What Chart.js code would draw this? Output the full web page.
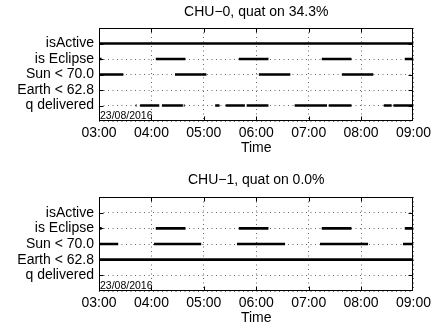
<!DOCTYPE html>
<html>
<head>
<meta charset="utf-8">
<script src="https://cdn.jsdelivr.net/npm/chart.js@4.4.1/dist/chart.umd.min.js"></script>
<style>
  body { margin: 0; background: #fff; }
  .box { position: absolute; left: 0; width: 435px; }
</style>
</head>
<body>
<div class="box" style="top:0px;height:165px"><canvas id="chu0Chart" width="435" height="165"></canvas></div>
<div class="box" style="top:169px;height:159px"><canvas id="chu1Chart" width="435" height="159"></canvas></div>
<script>
// CHU 상태 타임라인 (2016-08-23)
var rowLabels = ['isActive', 'is Eclipse', 'Sun < 70.0', 'Earth < 62.8', 'q delivered'];
var timeTicks = ['03:00', '04:00', '05:00', '06:00', '07:00', '08:00', '09:00'];
var dateLabel = '23/08/2016';

var chu0Title = 'CHU\u22120, quat on 34.3%';
var chu0Active  = [['03:00', '09:00']];
var chu0Eclipse = [['03:00', '03:03'], ['04:05', '04:39'], ['05:40', '06:14'], ['07:15', '07:49'], ['08:50', '09:00']];
var chu0Sun     = [['03:00', '03:28'], ['04:27', '05:03'], ['06:03', '06:39'], ['07:38', '08:14']];
var chu0Earth   = [];
var chu0Quat    = [['03:42', '03:43'], ['03:47', '04:09'], ['04:12', '04:36'], ['04:37', '04:38'], ['05:13', '05:18'],
                   ['05:25', '05:47'], ['05:49', '06:14'], ['06:44', '07:21'], ['07:23', '07:49'], ['08:26', '08:35'], ['08:37', '09:00']];

var chu1Title = 'CHU\u22121, quat on 0.0%';
var chu1Active  = [];
var chu1Eclipse = [['03:00', '03:03'], ['04:05', '04:39'], ['05:40', '06:14'], ['07:15', '07:49'], ['08:50', '09:00']];
var chu1Sun     = [['03:00', '03:22'], ['04:03', '04:57'], ['05:38', '06:33'], ['07:13', '08:08'], ['08:48', '09:00']];
var chu1Earth   = [['03:00', '09:00']];
var chu1Quat    = [];

var fontName = '"Liberation Sans", Arial, sans-serif';

function toMin(s) {
    var p = s.split(':');
    return parseInt(p[0]) * 60 + parseInt(p[1]);
}

// 구간 목록 -> 선 데이터 (구간 사이는 null 로 끊음)
function segPoints(segs, row) {
    var pts = [];
    for (var i = 0; i < segs.length; i++) {
        pts.push({x: toMin(segs[i][0]), y: row});
        pts.push({x: toMin(segs[i][1]), y: row});
        pts.push({x: toMin(segs[i][1]), y: null});
    }
    return pts;
}

var frameStamp = {
    id: 'frameStamp',
    afterDraw: function(chart) {
        var ctx = chart.ctx, a = chart.chartArea;
        var xs = chart.scales.x, ys = chart.scales.y;
        var l = Math.round(a.left) + 0.5, r = Math.round(a.right) - 0.5;
        var t = Math.round(a.top) + 0.5, b = Math.round(a.bottom) - 0.5;
        ctx.save();
        ctx.strokeStyle = '#000';
        ctx.lineWidth = 1;
        ctx.beginPath();
        for (var i = 1; i < timeTicks.length - 1; i++) {
            var px = Math.round(xs.getPixelForValue(toMin(timeTicks[i]))) + 0.5;
            ctx.moveTo(px, t); ctx.lineTo(px, t + 4);
            ctx.moveTo(px, b); ctx.lineTo(px, b - 4);
        }
        for (var k = 1; k <= rowLabels.length; k++) {
            var py = Math.round(ys.getPixelForValue(k)) + 0.5;
            ctx.moveTo(l, py); ctx.lineTo(l + 4, py);
            ctx.moveTo(r, py); ctx.lineTo(r - 4, py);
        }
        ctx.stroke();
        ctx.strokeRect(l, t, r - l, b - t);
        ctx.fillStyle = '#000';
        ctx.font = '10.5px ' + fontName;
        ctx.textBaseline = 'alphabetic';
        ctx.textAlign = 'left';
        ctx.fillText(dateLabel, a.left + 1, a.bottom - 2);
        ctx.restore();
    }
};

function makeChart(canvasId, title, rows, lay) {
    var datasets = [];
    for (var i = 0; i < rows.length; i++) {
        datasets.push({
            label: rowLabels[i],
            data: segPoints(rows[i], rowLabels.length - i),
            borderColor: '#000',
            borderWidth: 2.6,
            borderCapStyle: 'butt',
            pointRadius: 0,
            fill: false,
            tension: 0,
            spanGaps: false
        });
    }
    var ctx = document.getElementById(canvasId).getContext('2d');
    return new Chart(ctx, {
        type: 'line',
        data: { datasets: datasets },
        plugins: [frameStamp],
        options: {
            responsive: false,
            animation: false,
            layout: { padding: { left: 0, right: 20, top: 0, bottom: 0 } },
            plugins: {
                legend: { display: false },
                tooltip: { enabled: false },
                title: { display: false }
            },
            scales: {
                // 제목은 위쪽 축 제목으로 (플롯 영역 가운데 정렬)
                xTop: {
                    type: 'linear',
                    position: 'top',
                    min: toMin(timeTicks[0]),
                    max: toMin(timeTicks[timeTicks.length - 1]),
                    afterFit: function(s) { s.height = 28; },
                    ticks: { display: false },
                    grid: { display: false },
                    border: { display: false },
                    title: {
                        display: true,
                        text: title,
                        color: '#000',
                        font: { family: fontName, size: 14 },
                        padding: { top: lay.titleTop, bottom: 0 }
                    }
                },
                x: {
                    type: 'linear',
                    position: 'bottom',
                    min: toMin(timeTicks[0]),
                    max: toMin(timeTicks[timeTicks.length - 1]),
                    afterFit: function(s) { s.height = lay.xHeight; },
                    ticks: {
                        stepSize: 60,
                        padding: 4,
                        maxRotation: 0,
                        autoSkip: false,
                        color: '#000',
                        font: { family: fontName, size: 14 },
                        callback: function(v) {
                            var idx = (v - toMin(timeTicks[0])) / 60;
                            return timeTicks[idx] || '';
                        }
                    },
                    grid: { color: '#666', lineWidth: 1, drawTicks: false },
                    border: { display: false, dash: [1, 3.5] },
                    title: {
                        display: true,
                        text: 'Time',
                        color: '#000',
                        font: { family: fontName, size: 14 },
                        padding: { top: 0, bottom: lay.timePad }
                    }
                },
                y: {
                    type: 'linear',
                    min: 0,
                    max: rowLabels.length + 1,
                    afterFit: function(s) { s.width = 99; },
                    ticks: {
                        stepSize: 1,
                        padding: 5,
                        autoSkip: false,
                        color: '#000',
                        font: { family: fontName, size: 14 },
                        callback: function(v) {
                            return rowLabels[rowLabels.length - v] || '';
                        }
                    },
                    grid: { color: '#666', lineWidth: 1, drawTicks: false },
                    border: { display: false, dash: [1, 3.5] }
                }
            }
        }
    });
}

makeChart('chu0Chart', chu0Title, [chu0Active, chu0Eclipse, chu0Sun, chu0Earth, chu0Quat],
    { titleTop: 4, xHeight: 44, timePad: 8.6 });
makeChart('chu1Chart', chu1Title, [chu1Active, chu1Eclipse, chu1Sun, chu1Earth, chu1Quat],
    { titleTop: 2.6, xHeight: 37, timePad: 1.6 });
</script>
</body>
</html>
